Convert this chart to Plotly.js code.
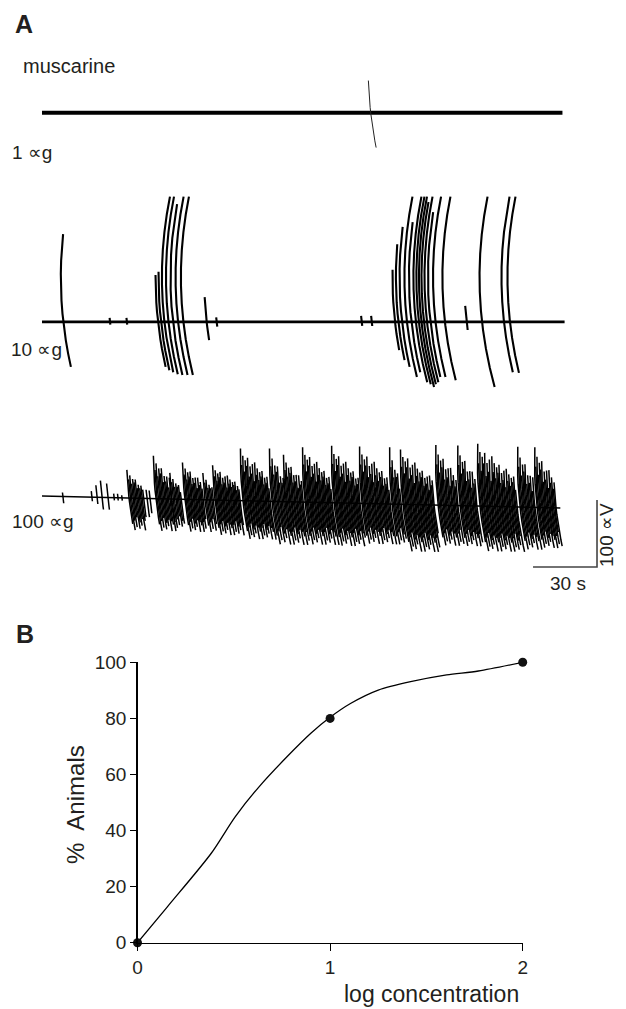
<!DOCTYPE html>
<html><head><meta charset="utf-8">
<script src="https://cdn.plot.ly/plotly-3.0.1.min.js"></script>
<style>html,body{margin:0;padding:0;background:#fff}</style>
</head><body><div id="chart" style="width:626px;height:1009px"></div>
<script>
// ================= DATA =================
// Panel A : extracellular recordings (time in s, amplitude in µV)
const recordDuration = 244;
// 1 µg : only a single pen artefact
const t1SpikeTime = [154.1];
const t1SpikeUp   = [48];
const t1SpikeDown = [52];
// 10 µg : individual spikes
const t2SpikeTime = [10.0, 31.9, 39.8, 54.4, 55.8, 57.4, 59.3, 61.4, 63.8, 66.3, 77.2, 81.9, 149.9, 154.6,
                     165.5, 167.1, 168.8, 171.1, 173.2, 175.3, 176.7, 177.9, 179.1, 180.5, 182.1, 184.5, 188.9,
                     199.1, 206.3, 216.6, 219.4];
const t2SpikeUp   = [131, 6, 6, 70, 75, 187, 187, 176, 187, 187, 37, 7, 9, 9,
                     78, 116, 142, 187, 149, 187, 187, 187, 179, 187, 164, 187, 187,
                     24, 187, 187, 187];
const t2SpikeDown = [67, 4, 4, 67, 72, 75, 78, 79, 79, 79, 27, 7, 6, 6,
                     42, 57, 67, 82, 75, 90, 93, 97, 93, 90, 82, 82, 87,
                     12, 97, 75, 76];
// 100 µg : isolated spikes and bursts
const t3SpikeTime = [9.8, 23.4, 25.8, 28.1, 30.9, 33.8, 35.6, 37.5, 47.6, 49.2, 50.6];
const t3SpikeUp   = [6, 9, 18, 25, 21, 6, 6, 4, 13, 13, 12];
const t3SpikeDown = [10, 6, 10, 18, 18, 4, 4, 4, 28, 28, 22];
const burstStart = [40.8, 53.4, 60.9, 67.0, 76.4, 81.1, 94.2, 107.8, 114.4, 123.3, 136.9, 150.0, 164.1, 169.2, 185.7, 196.0, 205.3, 224.1, 232.1];
const burstEnd   = [46.9, 60.5, 65.2, 75.5, 80.2, 92.8, 106.9, 113.9, 122.4, 136.0, 149.1, 163.2, 168.3, 183.8, 195.0, 203.9, 222.7, 231.1, 241.0];
const burstUp    = [42, 64, 39, 55, 40, 52, 78, 79, 70, 82, 85, 85, 85, 82, 90, 90, 93, 90, 90];
const burstDown  = [48, 48, 43, 48, 48, 52, 57, 64, 64, 63, 64, 60, 60, 70, 60, 60, 67, 63, 60];
const trace3Drift = -18;          // baseline drift over the record (µV)
const scaleBarTime = 30;          // s
const scaleBarAmp  = 100;         // µV

// Panel B : dose response
const logConc    = [0, 1, 2];
const pctAnimals = [0, 80, 100];
const fitX = [0, 0.155, 0.383, 0.507, 0.631, 0.776, 0.90, 1.0, 1.108, 1.25, 1.418, 1.605, 1.77, 2];
const fitY = [0, 12.8, 31.9, 44.9, 55.6, 66.3, 74.7, 80.4, 85.4, 90.1, 93.1, 95.5, 96.9, 100];

// ================= GEOMETRY / STYLE =================
const W = 626, H = 1009;
const pxPerSec = 2.133, pxPerUV = 0.67;
const arcH = 45, arcR = 400;          // pen-recorder arc (px)
const base1 = 742.2, base2 = 429.9, base3 = 170.1;
const txtCol = '#231f20';
const FONT = 'Liberation Sans, Arial, Helvetica, sans-serif';
const px = x => x / W, py = y => 1 - y / H;

function addArc(t0, b, up, down, tx, ty) {
  const u = up * pxPerUV, d = down * pxPerUV, n = 10;
  for (let k = 0; k <= n; k++) {
    const dy = u - (u + d) * k / n;
    const off = ((dy - arcH) * (dy - arcH) - arcH * arcH) / (2 * arcR);
    tx.push(t0 + off / pxPerSec); ty.push(b + dy / pxPerUV);
  }
  tx.push(null); ty.push(null);
}
const b3 = t => base3 + trace3Drift * t / recordDuration;

const traces = [];
// baselines
traces.push({x: [0, recordDuration], y: [base1, base1], mode: 'lines', line: {color: '#000', width: 3.8}});
traces.push({x: [0, recordDuration + 1], y: [base2, base2], mode: 'lines', line: {color: '#000', width: 2.8}});
traces.push({x: [0, recordDuration - 1], y: [b3(0), b3(recordDuration - 1)], mode: 'lines', line: {color: '#000', width: 1.5}});

// trace 1 artefact
{ const tx = [], ty = [];
  t1SpikeTime.forEach((t, i) => addArc(t, base1, t1SpikeUp[i], t1SpikeDown[i], tx, ty));
  traces.push({x: tx, y: ty, mode: 'lines', line: {color: '#222', width: 1}}); }
// trace 2 spikes
{ const tx = [], ty = [];
  t2SpikeTime.forEach((t, i) => addArc(t, base2, t2SpikeUp[i], t2SpikeDown[i], tx, ty));
  traces.push({x: tx, y: ty, mode: 'lines', line: {color: '#000', width: 2.1}}); }
// trace 3 spikes + bursts
{ const tx = [], ty = [];
  t3SpikeTime.forEach((t, i) => addArc(t, b3(t), t3SpikeUp[i], t3SpikeDown[i], tx, ty));
  const pU = [1, 0.7, 0.9, 0.6, 0.85, 0.75, 0.95, 0.55, 0.8, 0.65, 0.9, 0.5];
  const pD = [0.8, 1, 0.7, 0.9, 0.6, 0.95, 0.75, 0.85, 0.65, 1, 0.7];
  burstStart.forEach((s, i) => {
    const e = burstEnd[i];
    const n = Math.max(2, Math.round((e - s) * pxPerSec / 1.15));
    for (let k = 0; k < n; k++) {
      const f = k / (n - 1), t = s + f * (e - s);
      addArc(t, b3(t), burstUp[i] * (1 - 0.5 * f) * pU[k % pU.length],
             burstDown[i] * pD[k % pD.length], tx, ty);
    }
  });
  traces.push({x: tx, y: ty, mode: 'lines', line: {color: '#000', width: 1.5}}); }

// scale bars
const sbT = 260.2, sbV = 64.2;
traces.push({x: [sbT - scaleBarTime, sbT, sbT], y: [sbV, sbV, sbV + scaleBarAmp], mode: 'lines',
             line: {color: '#444', width: 1.6}});

// Panel B
traces.push({x: fitX, y: fitY, xaxis: 'x2', yaxis: 'y2', mode: 'lines',
             line: {color: '#000', width: 1.3, shape: 'spline', smoothing: 0.8}, cliponaxis: false});
traces.push({x: logConc, y: pctAnimals, xaxis: 'x2', yaxis: 'y2', mode: 'markers',
             marker: {color: '#111', size: 9}, cliponaxis: false});

traces.forEach(t => { if (!t.xaxis) { t.xaxis = 'x'; t.yaxis = 'y'; } t.hoverinfo = 'skip'; });

const ann = (text, x, y, o = {}) => Object.assign({
  text, x: px(x), y: py(y), xref: 'paper', yref: 'paper', showarrow: false,
  xanchor: 'left', yanchor: 'middle', font: {family: FONT, size: 19, color: txtCol}}, o);

const layout = {
  width: W, height: H, margin: {l: 0, r: 0, t: 0, b: 0},
  paper_bgcolor: '#fff', plot_bgcolor: 'rgba(0,0,0,0)', showlegend: false,
  xaxis: {domain: [0, 1], range: [-42 / pxPerSec, (W - 42) / pxPerSec], visible: false, fixedrange: true},
  yaxis: {domain: [py(610), 1], range: [0, 610 / pxPerUV], visible: false, fixedrange: true},
  xaxis2: {domain: [px(137.5), px(522.7)], range: [0, 2], anchor: 'y2',
           tickvals: [0, 1, 2], ticktext: ['0', '1', '2'], ticks: 'outside', ticklen: 7, tickwidth: 1.2,
           tickcolor: '#000', showline: true, linecolor: '#000', linewidth: 1.3, showgrid: false, zeroline: false,
           tickfont: {family: FONT, size: 19, color: txtCol}},
  yaxis2: {domain: [py(942.7), py(662.3)], range: [0, 100], anchor: 'x2',
           tickvals: [0, 20, 40, 60, 80, 100], ticks: 'outside', ticklen: 6, tickwidth: 1.2,
           tickcolor: '#000', showline: true, linecolor: '#000', linewidth: 1.3, showgrid: false, zeroline: false,
           tickfont: {family: FONT, size: 19, color: txtCol}},
  annotations: [
    ann('<b>A</b>', 13, 24, {font: {family: FONT, size: 25, color: txtCol}}),
    ann('muscarine', 21, 66, {font: {family: FONT, size: 20, color: txtCol}}),
    ann('1 ∝g', 10, 153),
    ann('10 ∝g', 9, 350),
    ann('100 ∝g', 10, 521),
    ann('30 s', 568, 583, {xanchor: 'center'}),
    ann('100 ∝V', 606, 535, {xanchor: 'center', textangle: -90}),
    ann('<b>B</b>', 14, 634, {font: {family: FONT, size: 25, color: txtCol}}),
    ann('%\u00a0 Animals', 75, 805, {xanchor: 'center', textangle: -90, font: {family: FONT, size: 24, color: txtCol}}),
    ann('log concentration', 521, 994, {xanchor: 'right', font: {family: FONT, size: 23, color: txtCol}})
  ]
};
Plotly.newPlot('chart', traces, layout, {displayModeBar: false, staticPlot: true});
</script></body></html>
